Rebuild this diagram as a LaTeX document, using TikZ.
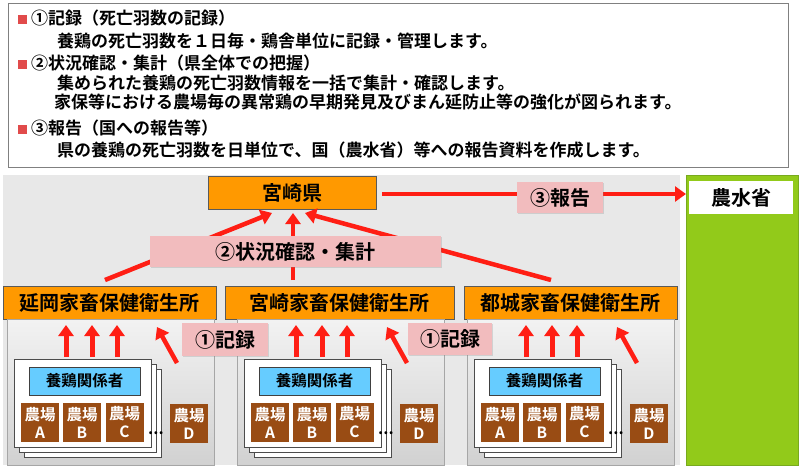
\documentclass[tikz,border=0pt]{standalone}
\usepackage{fontspec}
\setmainfont{Noto Sans CJK JP}[BoldFont={Noto Sans CJK JP Bold}]
\usetikzlibrary{arrows.meta,calc,shadows}
\definecolor{arrred}{RGB}{255,30,20}
\definecolor{pinkl}{RGB}{242,188,190}
\definecolor{orangeb}{RGB}{255,153,0}
\definecolor{greenb}{RGB}{146,202,26}
\definecolor{greenedge}{RGB}{120,170,30}
\definecolor{blueb}{RGB}{102,204,255}
\definecolor{brownb}{RGB}{153,76,20}
\definecolor{bgray}{RGB}{232,232,232}
\definecolor{bullred}{RGB}{225,75,75}
\definecolor{edgegray}{RGB}{90,90,90}
\tikzset{
  box/.style={rectangle,inner sep=0pt,outer sep=0pt},
  orangebox/.style={box,fill=orangeb,draw=edgegray,line width=0.8pt,font=\fontsize{20}{22}\selectfont\bfseries},
  pinklabel/.style={box,fill=pinkl,font=\fontsize{20}{22}\selectfont\bfseries,drop shadow={shadow xshift=1.2pt,shadow yshift=-1.2pt,opacity=0.25}},
  panel/.style={box,top color=black!5,bottom color=black!18,draw=black!35,line width=0.6pt},
  card/.style={box,fill=white,draw=black!70,line width=0.7pt,minimum width=137pt,minimum height=88pt},
  bluebox/.style={box,fill=blueb,draw=black!75,line width=0.7pt,minimum width=111pt,minimum height=28pt,font=\fontsize{15.5}{17}\selectfont\bfseries},
  farm/.style={box,fill=brownb,text=white,minimum width=38pt,minimum height=39pt,align=center,font=\fontsize{15.5}{18}\selectfont\bfseries},
  bigarrow/.style={draw=arrred,line width=4.5pt,-{Triangle[length=11pt,width=15pt]}},
  uparrow/.style={draw=arrred,line width=5pt,-{Triangle[length=11pt,width=15pt]}},
  bulletsq/.style={box,fill=bullred,minimum width=9pt,minimum height=9pt},
  line/.style={anchor=west,inner sep=0pt,font=\fontsize{17}{18}\selectfont\bfseries},
}
\begin{document}
\begin{tikzpicture}[x=1pt,y=-1pt]
\useasboundingbox (0,0) rectangle (800,469);
\fill[white] (0,0) rectangle (800,469);
% top text box
\node[box,draw=black!50,line width=1pt,fill=white,minimum width=780pt,minimum height=164pt] (topbox) at (398,85) {};
\node[bulletsq] (b1) at (22.5,19) {};
\node[bulletsq] (b2) at (22.5,64) {};
\node[bulletsq] (b3) at (22.5,129) {};
\node[line] (t1) at (31,18) {①記録（死亡羽数の記録）};
\node[line] (t2) at (57,41) {養鶏の死亡羽数を１日毎・鶏舎単位に記録・管理します。};
\node[line] (t3) at (31,63) {②状況確認・集計（県全体での把握）};
\node[line] (t4) at (57,83) {集められた養鶏の死亡羽数情報を一括で集計・確認します。};
\node[line] (t5) at (54,102) {家保等における農場毎の異常鶏の早期発見及びまん延防止等の強化が図られます。};
\node[line] (t6) at (31,128) {③報告（国への報告等）};
\node[line] (t7) at (57,150) {県の養鶏の死亡羽数を日単位で、国（農水省）等への報告資料を作成します。};
% backgrounds
\node[box,fill=bgray,minimum width=677pt,minimum height=290pt] (bg) at (341.5,320) {};
\node[box,fill=greenb,draw=greenedge,line width=0.8pt,minimum width=112pt,minimum height=290pt] (green) at (742,320) {};
\node[box,fill=white,minimum width=104pt,minimum height=33pt,font=\fontsize{20}{22}\selectfont\bfseries] (nousho) at (741,197.5) {農水省};
% prefecture
\node[orangebox,minimum width=168pt,minimum height=33pt] (ken) at (292,192.5) {宮崎県};
% health centers
\node[orangebox,minimum width=213pt,minimum height=33pt] (nob) at (109.5,302.5) {延岡家畜保健衛生所};
\node[orangebox,minimum width=229pt,minimum height=33pt] (mia) at (339.5,302.5) {宮崎家畜保健衛生所};
\node[orangebox,minimum width=213pt,minimum height=33pt] (tok) at (570.5,302.5) {都城家畜保健衛生所};
% panels
\foreach \L/\n in {7/1,237/2,467/3}{
  \node[panel,minimum width=207pt,minimum height=146pt] (p\n) at (\L+104,392) {};
  \node[card] (cb\n) at (\L+85.5,413) {};
  \node[card] (cm\n) at (\L+80.5,408) {};
  \node[card] (f\n) at (\L+75.5,403) {};
  \node[bluebox] (k\n) at (\L+77.5,381) {養鶏関係者};
  \node[farm] (fa\n) at (\L+33,422.5) {農場\\A};
  \node[farm] (fb\n) at (\L+75,422.5) {農場\\B};
  \node[farm] (fc\n) at (\L+117.5,422.5) {農場\\C};
  \node[farm] (fd\n) at (\L+182,423.5) {農場\\D};
  \node[inner sep=0pt,font=\fontsize{16}{16}\selectfont\bfseries] (dots\n) at (\L+149,433) {...};
  \draw[uparrow] ($(f\n.north west)+(52,-2)$) -- ($(f\n.north west)+(52,-34)$);
  \draw[uparrow] ($(f\n.north west)+(78,-2)$) -- ($(f\n.north west)+(78,-34)$);
  \draw[uparrow] ($(f\n.north west)+(103,-2)$) -- ($(f\n.north west)+(103,-34)$);
  \draw[bigarrow] ($(f\n.north west)+(163,4)$) -- ($(f\n.north west)+(143,-32)$);
}
% arrows to prefecture
\draw[bigarrow] ($(nob.north)+(-4.5,-6)$) -- ($(ken.south)+(-20,4)$);
\draw[bigarrow] ($(mia.north)+(-46.5,-6)$) -- ($(ken.south)+(1,4)$);
\draw[bigarrow] ($(tok.north)+(-19.5,-6)$) -- ($(ken.south)+(13,4)$);
% report arrow
\draw[bigarrow] ($(ken.east)+(6,1.5)$) -- ($(ken.east -| green.west)+(0,1.5)$);
% labels
\node[pinklabel,minimum width=291pt,minimum height=31pt] (lab2) at (295.5,251.5) {②状況確認・集計};
\node[pinklabel,minimum width=86pt,minimum height=31pt] (lab3) at (560,197.5) {③報告};
\node[pinklabel,minimum width=86pt,minimum height=33pt] (lab1a) at (225,339.5) {①記録};
\node[pinklabel,minimum width=84pt,minimum height=32pt] (lab1b) at (450,339) {①記録};
\end{tikzpicture}
\end{document}
